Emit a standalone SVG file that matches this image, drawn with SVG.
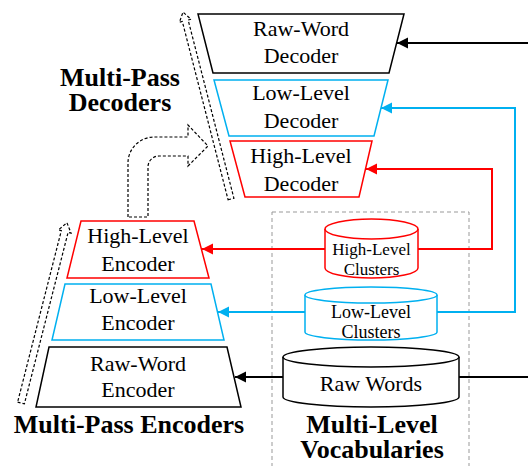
<svg xmlns="http://www.w3.org/2000/svg" width="528" height="466" viewBox="0 0 528 466">
<style>
.t{font-family:"Liberation Serif","Times New Roman",serif;font-size:22px;fill:#000;text-anchor:middle}
.c{font-family:"Liberation Serif","Times New Roman",serif;fill:#000;text-anchor:middle}
.b{font-family:"Liberation Serif","Times New Roman",serif;font-size:26px;font-weight:bold;fill:#000;text-anchor:middle}
.blk{fill:#fff;stroke:#000;stroke-width:1.5}
.red{fill:#fff;stroke:#ff0000;stroke-width:1.5}
.blu{fill:#fff;stroke:#00b0f0;stroke-width:1.5}
.dash{fill:#fff;stroke:#000;stroke-width:1.2;stroke-dasharray:3 2}
.lk{fill:none;stroke-width:2}
</style>
<defs>
<marker id="ak" markerUnits="userSpaceOnUse" markerWidth="12" markerHeight="12" refX="11" refY="5.5" orient="auto"><path d="M0,0 L11,5.5 L0,11 Z" fill="#000"/></marker>
<marker id="ar" markerUnits="userSpaceOnUse" markerWidth="12" markerHeight="12" refX="11" refY="5.5" orient="auto"><path d="M0,0 L11,5.5 L0,11 Z" fill="#ff0000"/></marker>
<marker id="ab" markerUnits="userSpaceOnUse" markerWidth="12" markerHeight="12" refX="11" refY="5.5" orient="auto"><path d="M0,0 L11,5.5 L0,11 Z" fill="#00b0f0"/></marker>
</defs>

<rect x="272" y="212" width="197" height="270" fill="none" stroke="#999" stroke-width="1" stroke-dasharray="4 3"/>

<g id="connectors">
<path class="lk" stroke="#000" d="M528,43 H397" marker-end="url(#ak)"/>
<path class="lk" stroke="#00b0f0" d="M437,312 H515 V108 H381" marker-end="url(#ab)"/>
<path class="lk" stroke="#ff0000" d="M418,249 H492 V169 H366" marker-end="url(#ar)"/>
<path class="lk" stroke="#ff0000" d="M325,249 H202" marker-end="url(#ar)"/>
<path class="lk" stroke="#00b0f0" d="M305,312 H218" marker-end="url(#ab)"/>
<path class="lk" stroke="#000" d="M528,377 H459 M283,377 H235" marker-end="url(#ak)"/>
</g>

<g id="dec-raw">
<polygon class="blk" points="198,14 404,14 389,73 213,73"/>
<text class="t" x="301" y="36">Raw-Word</text>
<text class="t" x="301" y="63">Decoder</text>
</g>
<g id="dec-low">
<polygon class="blu" points="214,80 388,80 374,136 229,136"/>
<text class="t" x="301" y="100">Low-Level</text>
<text class="t" x="301" y="128">Decoder</text>
</g>
<g id="dec-high">
<polygon class="red" points="230,141 372,141 359,197 245,197"/>
<text class="t" x="301" y="163">High-Level</text>
<text class="t" x="301" y="191">Decoder</text>
</g>

<g id="enc-high">
<polygon class="red" points="81,221 194,221 209,278 67,278"/>
<text class="t" x="138" y="243">High-Level</text>
<text class="t" x="138" y="271">Encoder</text>
</g>
<g id="enc-low">
<polygon class="blu" points="65,284 211,284 224,340 52,340"/>
<text class="t" x="138" y="303">Low-Level</text>
<text class="t" x="138" y="330">Encoder</text>
</g>
<g id="enc-raw">
<polygon class="blk" points="49,347 227,347 241,407 36,407"/>
<text class="t" x="138" y="371">Raw-Word</text>
<text class="t" x="138" y="397">Encoder</text>
</g>

<g id="cl-high">
<path class="red" d="M325,229 V268 A46.5,10 0 0 0 418,268 V229"/>
<ellipse class="red" cx="371.5" cy="229" rx="46.5" ry="10"/>
<text class="c" font-size="17" x="371.5" y="255">High-Level</text>
<text class="c" font-size="17" x="371.5" y="275">Clusters</text>
</g>
<g id="cl-low">
<path class="blu" d="M305,295 V332 A66,8 0 0 0 437,332 V295"/>
<ellipse class="blu" cx="371" cy="295" rx="66" ry="8"/>
<text class="c" font-size="18" x="371" y="318">Low-Level</text>
<text class="c" font-size="18" x="371" y="338">Clusters</text>
</g>
<g id="raw-words">
<path class="blk" d="M283,357 V397 A88,10 0 0 0 459,397 V357"/>
<ellipse class="blk" cx="371" cy="357" rx="88" ry="10"/>
<text class="c" font-size="22" x="371" y="391">Raw Words</text>
</g>

<g id="pass-arrows">
<polygon class="dash" transform="translate(21,403) rotate(14.3)" points="-3.5,0 3.5,0 3.5,-177 6.5,-177 0,-186 -6.5,-177 -3.5,-177"/>
<polygon class="dash" transform="translate(231,199) rotate(-14.4)" points="-3,0 3,0 3,-184 6,-184 0,-193 -6,-184 -3,-184"/>
<path class="dash" d="M128,217 V163 A26,26 0 0 1 154,137 H188 V125 L208,146 L188,166 V156 H159 A11,11 0 0 0 148,167 V217 Z"/>
</g>

<text class="b" x="120" y="86">Multi-Pass</text>
<text class="b" x="120" y="111">Decoders</text>
<text class="b" x="129" y="433">Multi-Pass Encoders</text>
<text class="b" x="372" y="433">Multi-Level</text>
<text class="b" x="372" y="458">Vocabularies</text>
</svg>
